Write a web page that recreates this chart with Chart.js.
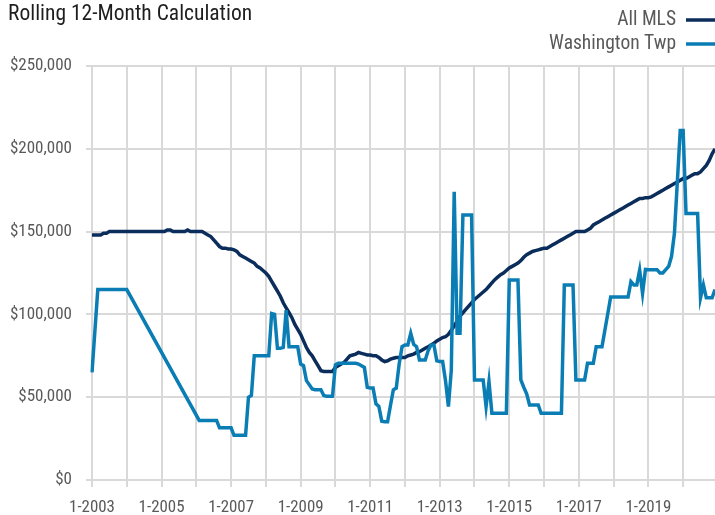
<!DOCTYPE html>
<html>
<head>
<meta charset="utf-8">
<script src="https://cdn.jsdelivr.net/npm/chart.js@4.4.1/dist/chart.umd.min.js"></script>
<style>
  html, body { margin: 0; padding: 0; background: #fff; }
  #wrap { width: 715px; height: 515px; }
</style>
</head>
<body>
<div id="wrap"><canvas id="myChart" width="715" height="515"></canvas></div>
<script>
const FONT = '"Roboto Condensed", "Liberation Sans Narrow", "DejaVu Sans Condensed", sans-serif';

// categorias: meses de 1-2003 a 12-2020
const years = [2003, 2004, 2005, 2006, 2007, 2008, 2009, 2010, 2011, 2012, 2013, 2014, 2015, 2016, 2017, 2018, 2019, 2020];
const months = [1, 2, 3, 4, 5, 6, 7, 8, 9, 10, 11, 12];
const labels = [];
years.forEach(y => months.forEach(m => labels.push(`${m}-${y}`)));

const yTicks = [0, 50000, 100000, 150000, 200000, 250000];

// valores en miles de dolares, una fila por año
const allMls = [
    148, 148, 148, 148, 149, 149, 150, 150, 150, 150, 150, 150,
    150, 150, 150, 150, 150, 150, 150, 150, 150, 150, 150, 150,
    150, 150, 151, 151, 150, 150, 150, 150, 150, 151, 150, 150,
    150, 150, 150, 149, 148, 147, 145, 143, 141, 140, 140, 139.5,
    139.5, 139, 138, 136, 135, 134, 133, 132, 131, 129, 128, 126.5,
    125, 123, 120, 117, 114, 111, 107, 104, 101, 98, 94, 91,
    88, 84, 80, 77, 75, 72, 69, 66, 65.5, 65.5, 65.5, 65.5,
    68, 69, 70, 71, 73, 75, 75.5, 76, 77, 76.5, 76, 75.5,
    75.5, 75, 75, 74, 72.5, 71.5, 72, 73, 73.5, 74, 74, 74,
    74, 75, 75.5, 76, 77, 77.5, 78.5, 79.5, 80.5, 81.5, 82.5, 84,
    85, 86, 86.5, 88, 90.5, 93, 96, 99, 101, 103, 105, 107,
    109, 110.5, 112, 113.5, 115, 117, 119, 121, 122.5, 124, 125, 126.5,
    128, 129, 130, 131, 132.5, 134.5, 136, 137, 138, 138.5, 139, 139.5,
    140, 140, 141, 142, 143, 144, 145, 146, 147, 148, 149, 150,
    150, 150, 150, 151, 152, 154, 155, 156, 157, 158, 159, 160,
    161, 162, 163, 164, 165, 166, 167, 168, 169, 170, 170, 170.5,
    170.5, 171, 172, 173, 174, 175, 176, 177, 178, 179, 180, 181,
    182, 182, 183, 184, 185, 185, 186, 188, 190, 193, 197, 200
];

// null = mes sin dato (la linea los salta)
const washingtonTwp = [
    65, null, 115, 115, 115, 115, 115, 115, 115, 115, 115, 115,
    115, null, null, null, null, null, null, null, null, null, null, null,
    null, null, null, null, null, null, null, null, null, null, null, null,
    null, 36, 36, 36, 36, 36, 36, 36, 31.5, 31.5, 31.5, 31.5,
    31.5, 27, 27, 27, 27, 27, 50, 51, 75, 75, 75, 75,
    75, 75, 100.5, 100, 79.5, 79.5, 80, 102.5, 80.5, 80.5, 80.5, 80.5,
    70, 69, 60, 57.5, 55, 54.5, 54.5, 54.5, 51, 50.5, 50.5, 50.5,
    69.5, 70.5, 70.5, 70.5, 70.5, 70.5, 70.5, 70.5, 70, 69, 68, 56,
    55.5, 55.5, 46, 44.5, 35.5, 35.2, 35.2, 45, 54.5, 55.5, 70, 80.5,
    81.5, 81.5, 88.6, 82, 80.5, 72.5, 72.5, 72.5, 78, 81.5, 81.5, 72,
    71.5, 71.5, 60, 44.3, 66.4, 174, 88.6, 88.6, 160, 160, 160, 160,
    60.4, 60.4, 60.4, 60.4, 44.3, 59.4, 40.3, 40.3, 40.3, 40.3, 40.3, 40.3,
    120.8, 120.8, 120.8, 120.8, 60.4, 56, 52, 45.3, 45.3, 45.3, 45.3, 40.3,
    40.3, 40.3, 40.3, 40.3, 40.3, 40.3, 40.3, 117.8, 117.8, 117.8, 117.8, 60.4,
    60.4, 60.4, 60.4, 70.5, 70.5, 70.5, 80.5, 80.5, 80.5, null, null, 110.5,
    110.5, 110.5, 110.5, 110.5, 110.5, 110.5, 119.8, 117.8, 117.8, 126.8, 112.7, 127.2,
    127, 127, 127, 127, 125, 125, 127, 129, 135, 149, null, 211,
    211, 161, 161, 161, 161, 161, 110, 117.8, 110, 110, 110, 115
];

const toDollars = arr => arr.map(v => v === null ? null : v * 1000);

const ctx = document.getElementById("myChart").getContext("2d");

// ajusta el tamaño de letra para que un texto mida lo mismo que en la imagen
function fitSize(text, width) {
    ctx.font = `100px ${FONT}`;
    return Math.round(100 * width / ctx.measureText(text).width * 10) / 10;
}
const yTickSize = fitSize("$250,000", 62);
const xTickSize = fitSize("1-2003", 46);
const legendSize = fitSize("Washington Twp", 127);
const titleSize = fitSize("Rolling 12-Month Calculation", 244);

// Titulo y leyenda dibujados arriba
const header = {
    id: "header",
    afterDraw(chart) {
        const c = chart.ctx;
        c.save();
        c.textBaseline = "alphabetic";
        c.font = `${titleSize}px ${FONT}`;
        c.fillStyle = "#1e1e1e";
        c.textAlign = "left";
        c.fillText("Rolling 12-Month Calculation", 8, 20);

        c.font = `${legendSize}px ${FONT}`;
        c.fillStyle = "#595959";
        c.textAlign = "right";
        chart.data.datasets.forEach((ds, i) => {
            const y = 25 + i * 24;
            c.fillText(ds.label, 676, y);
            c.strokeStyle = ds.borderColor;
            c.lineWidth = 3.5;
            c.beginPath();
            c.moveTo(686, y - 5);
            c.lineTo(715, y - 5);
            c.stroke();
        });
        c.restore();
    }
};

const chart = new Chart(ctx, {
    type: "line",
    data: {
        labels: labels,
        datasets: [
            {
                label: "All MLS",
                data: toDollars(allMls),
                borderColor: "#0b2d5b",
                borderWidth: 3.5,
                pointRadius: 0,
                pointHoverRadius: 0,
                tension: 0,
                order: 2
            },
            {
                label: "Washington Twp",
                data: toDollars(washingtonTwp),
                borderColor: "#0a7db4",
                borderWidth: 3.5,
                pointRadius: 0,
                pointHoverRadius: 0,
                tension: 0,
                spanGaps: true,
                order: 1
            }
        ]
    },
    options: {
        responsive: false,
        animation: false,
        devicePixelRatio: 1,
        layout: { autoPadding: false, padding: { top: 66, right: 0, left: 0, bottom: 0 } },
        plugins: {
            legend: { display: false },
            title: { display: false },
            tooltip: { enabled: false }
        },
        scales: {
            x: {
                afterFit: scale => {
                    scale.height = 35;
                    scale.paddingRight = 0;
                },
                border: { display: false },
                grid: {
                    color: c => (c.index % 12 === 0 ? "#d9d9d9" : "rgba(0,0,0,0)"),
                    lineWidth: 2,
                    tickLength: 7
                },
                ticks: {
                    autoSkip: false,
                    maxRotation: 0,
                    minRotation: 0,
                    padding: 11,
                    color: "#595959",
                    font: { family: FONT, size: xTickSize },
                    callback: (val, idx) => (idx % 24 === 0 ? labels[idx] : "")
                }
            },
            y: {
                min: 0,
                max: 250000,
                afterFit: scale => { scale.width = 92; },
                afterBuildTicks: scale => { scale.ticks = yTicks.map(v => ({ value: v })); },
                border: { display: false },
                grid: { color: "#d9d9d9", lineWidth: 2, tickLength: 6 },
                ticks: {
                    padding: 14,
                    color: "#595959",
                    font: { family: FONT, size: yTickSize },
                    callback: v => "$" + v.toLocaleString("en-US")
                }
            }
        }
    },
    plugins: [header]
});
</script>
</body>
</html>
